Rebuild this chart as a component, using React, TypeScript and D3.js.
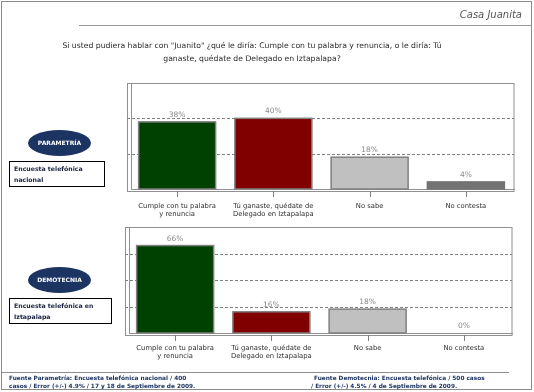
import React from "react";
import * as d3 from "d3";

const categories: string[][] = [
  ["Cumple con tu palabra", "y renuncia"],
  ["Tú ganaste, quédate de", "Delegado en Iztapalapa"],
  ["No sabe"],
  ["No contesta"],
];
const parametriaValues = [38, 40, 18, 4];
const demotecniaValues = [66, 16, 18, 0];
const barColors = ["#004000", "#800000", "#c0c0c0", "#737373"];
const parametriaTicks = [20, 40];
const demotecniaTicks = [20, 40, 60];
const titleLines = [
  "Si usted pudiera hablar con \"Juanito\" ¿qué le diría: Cumple con tu palabra y renuncia, o le diría: Tú",
  "ganaste, quédate de Delegado en Iztapalapa?",
];
const footLeft = [
  "Fuente Parametría: Encuesta telefónica nacional / 400",
  "casos / Error (+/-) 4.9% / 17 y 18 de Septiembre de 2009.",
];
const footRight = [
  "Fuente Demotecnia: Encuesta telefónica / 500 casos",
  "/ Error (+/-) 4.5% / 4 de Septiembre de 2009.",
];

const FONT = "'DejaVu Sans', Verdana, sans-serif";
const NAVY = "#1b3462";

type PanelProps = {
  values: number[];
  max: number;
  ticks: number[];
  x0: number;
  x1: number;
  top: number;
  base: number;
  labelY: number;
};

function Panel({ values, max, ticks, x0, x1, top, base, labelY }: PanelProps) {
  const x = d3.scaleBand<number>().domain(values.map((_, i) => i)).range([x0, x1]).paddingInner(0.2).paddingOuter(0.1);
  const y = d3.scaleLinear().domain([0, max]).range([base, top]);
  const axisX = x0 + 2;
  return (
    <g>
      <rect x={x0 - 1.5} y={top + 0.5} width={x1 - x0 + 1.5} height={base - top + 2} fill="none" stroke="#909090" strokeWidth={1} />
      {ticks.map((t) => (
        <line key={t} x1={axisX - 4} x2={x1} y1={Math.round(y(t)) + 0.5} y2={Math.round(y(t)) + 0.5} stroke="#808080" strokeDasharray="3,2" strokeWidth={1} />
      ))}
      <line x1={axisX + 0.5} x2={axisX + 0.5} y1={top} y2={base} stroke="#909090" />
      <line x1={axisX} x2={x1 + 1} y1={base + 0.5} y2={base + 0.5} stroke="#909090" />
      {values.map((v, i) => {
        const bx = x(i)!;
        const bw = x.bandwidth();
        const cx = bx + bw / 2;
        return (
          <g key={i}>
            <rect
              x={bx}
              y={y(v)}
              width={bw}
              height={Math.max(0, base - y(v))}
              fill={barColors[i]}
              stroke={i === 3 ? barColors[i] : "#808080"}
              strokeWidth={1.5}
            />
            <text x={cx} y={y(v) - 5} textAnchor="middle" fontSize={7.5} fill="#8a8a8a" fontFamily={FONT}>
              {v}%
            </text>
            <line x1={Math.round(cx) + 0.5} x2={Math.round(cx) + 0.5} y1={base + 2} y2={base + 8} stroke="#808080" />
            {categories[i].map((ln, k) => (
              <text key={k} x={cx} y={labelY + k * 8.5} textAnchor="middle" fontSize={6.8} fill="#2e2e2e" fontFamily={FONT}>
                {ln}
              </text>
            ))}
          </g>
        );
      })}
    </g>
  );
}

function Badge({ cx, cy, label, boxX, boxY, boxW, boxH, lines }: { cx: number; cy: number; label: string; boxX: number; boxY: number; boxW: number; boxH: number; lines: string[] }) {
  return (
    <g>
      <ellipse cx={cx} cy={cy} rx={31.5} ry={13} fill={NAVY} />
      <text x={cx} y={cy + 2.3} textAnchor="middle" fontSize={6} fontWeight="bold" fill="#ffffff" fontFamily={FONT}>
        {label}
      </text>
      <rect x={boxX + 0.5} y={boxY + 0.5} width={boxW} height={boxH} fill="#ffffff" stroke="#000" strokeWidth={1} />
      {lines.map((l, k) => (
        <text key={k} x={boxX + 5} y={boxY + 10 + k * 11} fontSize={6.2} fontWeight="bold" fill="#1a2240" fontFamily={FONT}>
          {l}
        </text>
      ))}
    </g>
  );
}

export default function App() {
  return (
    <div style={{ position: "fixed", left: 0, top: 0 }}>
      <svg width={534} height={392} style={{ display: "block", background: "#fff", willChange: "transform" }}>
        <rect x={1.5} y={1.5} width={530} height={388} fill="none" stroke="#8c8c8c" />
        <text x={522} y={18} textAnchor="end" fontSize={10} fontStyle="italic" fill="#555" fontFamily={FONT}>
          Casa Juanita
        </text>
        <line x1={79} x2={532} y1={25.5} y2={25.5} stroke="#999" />
        {titleLines.map((t, k) => (
          <text key={k} x={252} y={48 + k * 13} textAnchor="middle" fontSize={7.7} fill="#2a2a2a" fontFamily={FONT}>
            {t}
          </text>
        ))}

        <Panel values={parametriaValues} max={60} ticks={parametriaTicks} x0={129} x1={514} top={83} base={189} labelY={207.5} />
        <Panel values={demotecniaValues} max={80} ticks={demotecniaTicks} x0={127} x1={512} top={227} base={333} labelY={349.5} />

        <Badge cx={59.5} cy={143} label="PARAMETRÍA" boxX={9} boxY={161} boxW={95} boxH={25} lines={["Encuesta telefónica", "nacional"]} />
        <Badge cx={59.5} cy={280} label="DEMOTECNIA" boxX={9} boxY={298} boxW={102} boxH={25} lines={["Encuesta telefónica en", "Iztapalapa"]} />

        <line x1={2} x2={509} y1={372.5} y2={372.5} stroke="#8c8c8c" />
        {footLeft.map((t, k) => (
          <text key={k} x={9} y={380 + k * 7.5} fontSize={5.8} fontWeight="bold" fill={NAVY} fontFamily={FONT}>
            {t}
          </text>
        ))}
        {footRight.map((t, k) => (
          <text key={k} x={k === 0 ? 314 : 311} y={380 + k * 7.5} fontSize={5.8} fontWeight="bold" fill={NAVY} fontFamily={FONT}>
            {t}
          </text>
        ))}
      </svg>
    </div>
  );
}
